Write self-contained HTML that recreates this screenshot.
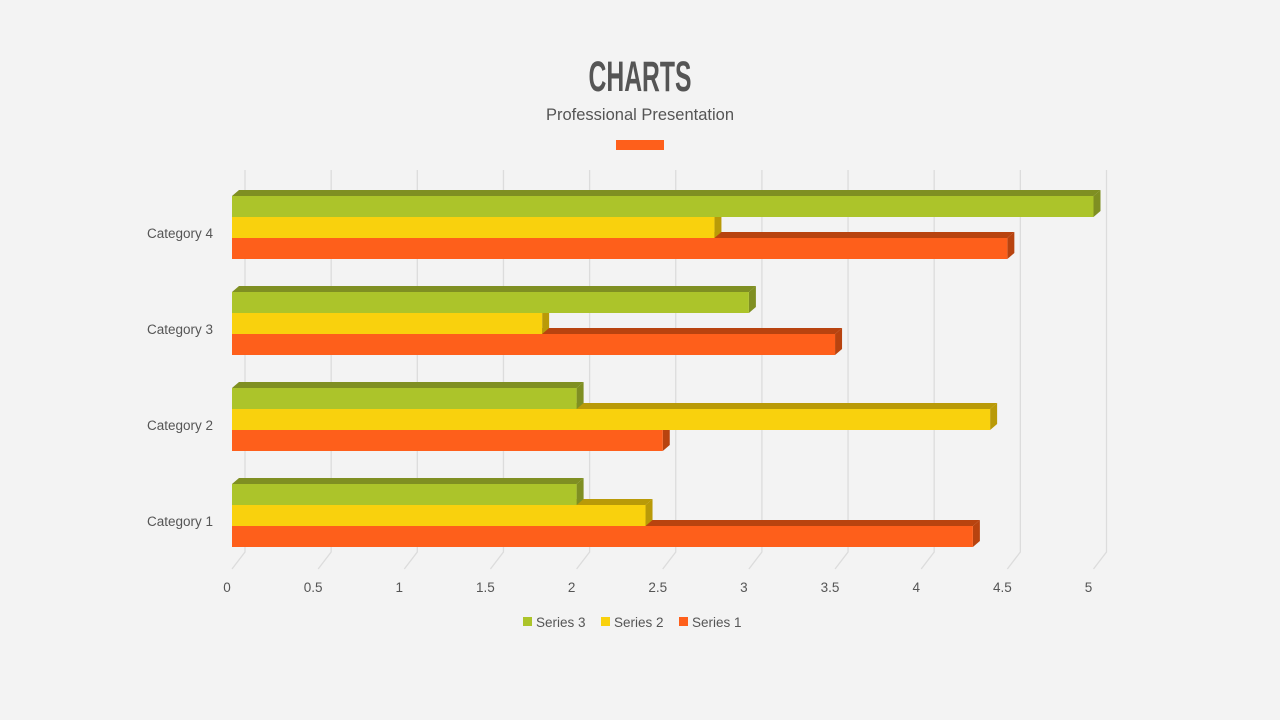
<!DOCTYPE html>
<html><head><meta charset="utf-8"><style>
html,body{margin:0;padding:0;background:#f3f3f3;}
body{width:1280px;height:720px;overflow:hidden;font-family:"Liberation Sans",sans-serif;}
</style></head><body>
<svg id="s" width="1280" height="720" xmlns="http://www.w3.org/2000/svg" style="position:absolute;left:0;top:0">
<rect width="1280" height="720" fill="#f3f3f3"/>
<text x="640" y="91" text-anchor="middle" font-family="Liberation Sans" font-weight="bold" font-size="43" fill="#555" transform="translate(640 0) scale(0.575 1) translate(-640 0)">CHARTS</text>
<text x="640" y="120" text-anchor="middle" font-size="16.5" fill="#555">Professional Presentation</text>
<rect x="616" y="140" width="48" height="10" fill="#fe5f1b"/>
<g id="grid" stroke="#dcdcdc" stroke-width="1.3" fill="none"></g>
<g id="bars"></g>
<g font-size="13.5" fill="#555" text-anchor="end">
<text x="213" y="238">Category 4</text>
<text x="213" y="334">Category 3</text>
<text x="213" y="430">Category 2</text>
<text x="213" y="526">Category 1</text>
</g>
<g font-size="13.5" fill="#555" text-anchor="middle" id="ticks"></g>
<g font-size="13.5" fill="#555">
<rect x="523" y="617" width="9" height="9" fill="#acc42a"/><text x="536" y="627">Series 3</text>
<rect x="601" y="617" width="9" height="9" fill="#f9d10d"/><text x="614" y="627">Series 2</text>
<rect x="679" y="617" width="9" height="9" fill="#fe5f1b"/><text x="692" y="627">Series 1</text>
</g>
</svg>
<script>
(function(){
var NS="http://www.w3.org/2000/svg";
function el(p,t,a,txt){var e=document.createElementNS(NS,t);for(var k in a)e.setAttribute(k,a[k]);if(txt!==undefined)e.textContent=txt;p.appendChild(e);return e;}
var g=document.getElementById('grid'),tk=document.getElementById('ticks'),b=document.getElementById('bars');
var U=172.3,X0=232;
for(var i=0;i<=10;i++){var xb=245+i*86.15;el(g,'polyline',{points:xb+',170 '+xb+',552 '+(xb-13)+',569'});
 var lbl=(i/2).toString();el(tk,'text',{x:X0+i*U/2-5,y:592},lbl);}
var data=[[4.3,2.4,2],[2.5,4.4,2],[3.5,1.8,3],[4.5,2.8,5]];
var col=[["#fe5f1b","#b8430f"],["#f9d10d","#b99a08"],["#acc42a","#7f8f22"]];
var dx=7,dy=6,h=21;
for(var c=0;c<4;c++){var ty=484-c*96;
 for(var s=0;s<3;s++){var yy=ty+(2-s)*h,w=data[c][s]*U,x1=X0+w;
  el(b,'polygon',{points:X0+','+yy+' '+(X0+dx)+','+(yy-dy)+' '+(x1+dx)+','+(yy-dy)+' '+x1+','+yy,fill:col[s][1]});
  el(b,'polygon',{points:x1+','+yy+' '+(x1+dx)+','+(yy-dy)+' '+(x1+dx)+','+(yy+h-dy)+' '+x1+','+(yy+h),fill:col[s][1]});
  el(b,'rect',{x:X0,y:yy,width:w,height:h,fill:col[s][0]});
 }}
})();
</script>
</body></html>
